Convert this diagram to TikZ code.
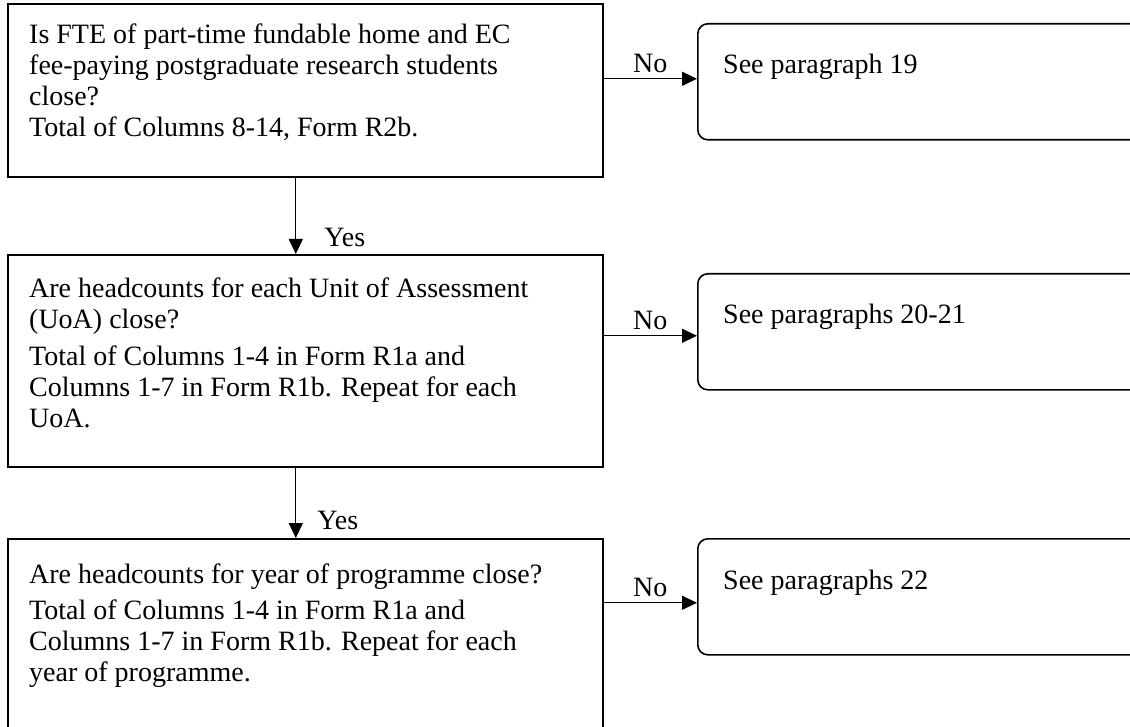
\documentclass[tikz,border=0pt]{standalone}
\usepackage{fontspec}
\setmainfont{Liberation Serif}
\usetikzlibrary{
    positioning,
    arrows.meta,
    calc
}

\tikzset{
    qbox/.style={draw, line width=1.6pt, minimum width=595pt, inner sep=0pt},
    abox/.style={draw, line width=1.6pt, rounded corners=10pt, minimum width=520pt, minimum height=116pt, inner sep=0pt},
    qtext/.style={align=left, inner sep=0pt, font=\fontsize{28}{31}\selectfont},
    atext/.style={inner sep=0pt, font=\fontsize{28}{31}\selectfont},
    lbl/.style={inner sep=0pt, font=\fontsize{28}{31}\selectfont},
    arr/.style={line width=1.3pt, -{Triangle[length=15pt, width=14pt]}}
}

\begin{document}
\begin{tikzpicture}[x=1pt, y=-1pt]
        \useasboundingbox (0,0) rectangle (1130,727);

        % Question boxes
        \node[qbox, minimum height=173pt, anchor=north west] (q1) at (7,3) {};
        \node[qbox, minimum height=212pt, anchor=north west] (q2) at (7,254) {};
        \node[qbox, minimum height=220pt, anchor=north west] (q3) at (7,538) {};

        \node[qtext, anchor=north west] (q1text) at ([shift={(22pt,-21pt)}]q1.north west)
            {Is FTE of part-time fundable home and EC\\fee-paying postgraduate research students\\close?\\Total of Columns 8-14, Form R2b.};
        \node[qtext, anchor=north west] (q2text) at ([shift={(22pt,-24pt)}]q2.north west)
            {Are headcounts for each Unit of Assessment\\(UoA) close?\\[6pt]Total of Columns 1-4 in Form R1a and\\Columns 1-7 in Form R1b. Repeat for each\\UoA.};
        \node[qtext, anchor=north west] (q3text) at ([shift={(22pt,-26pt)}]q3.north west)
            {Are headcounts for year of programme close?\\[5pt]Total of Columns 1-4 in Form R1a and\\Columns 1-7 in Form R1b. Repeat for each\\year of programme.};

        % Answer boxes
        \node[abox, anchor=north west] (a1) at (697,23) {};
        \node[abox, anchor=north west] (a2) at (697,273) {};
        \node[abox, anchor=north west] (a3) at (697,538) {};

        \node[atext, anchor=base west] (a1text) at ([shift={(26pt,-51pt)}]a1.north west) {See paragraph 19};
        \node[atext, anchor=base west] (a2text) at ([shift={(26pt,-51pt)}]a2.north west) {See paragraphs 20-21};
        \node[atext, anchor=base west] (a3text) at ([shift={(26pt,-51pt)}]a3.north west) {See paragraphs 22};

        % Yes arrows
        \draw[arr] ([xshift=-9.5pt]q1.south) -- ([xshift=-9.5pt]q2.north)
            node[lbl, at end, anchor=base west, xshift=28pt, yshift=7pt] (yes1) {Yes};
        \draw[arr] ([xshift=-9.5pt]q2.south) -- ([xshift=-9.5pt]q3.north)
            node[lbl, at end, anchor=base west, xshift=21pt, yshift=9pt] (yes2) {Yes};

        % No arrows
        \draw[arr] ([yshift=3pt]a1.west -| q1.east) -- ([yshift=3pt]a1.west)
            node[lbl, midway, above=5pt] (no1) {No};
        \draw[arr] ([yshift=-4pt]a2.west -| q2.east) -- ([yshift=-4pt]a2.west)
            node[lbl, midway, above=5pt] (no2) {No};
        \draw[arr] ([yshift=-6pt]a3.west -| q3.east) -- ([yshift=-6pt]a3.west)
            node[lbl, midway, above=5pt] (no3) {No};
    \end{tikzpicture}
\end{document}
